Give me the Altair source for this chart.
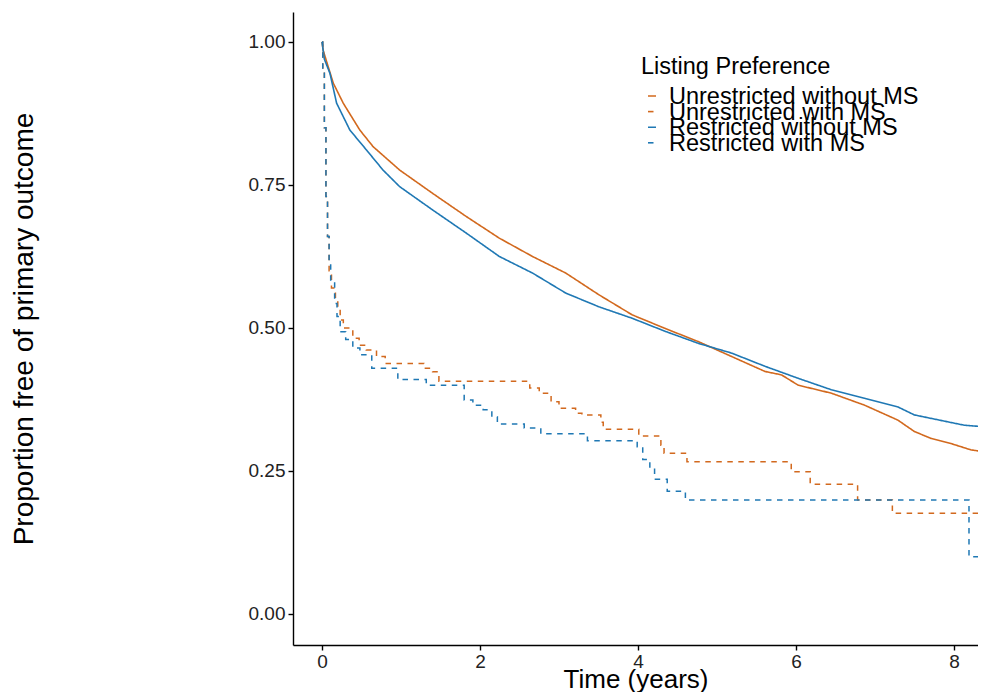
import altair as alt
import pandas as pd

# ---- data ----
legend_title = "Listing Preference"
groups = ["Unrestricted without MS", "Unrestricted with MS",
          "Restricted without MS", "Restricted with MS"]

# solid curves (many small KM steps, read as a polyline)
uw_t = [0, 0.016, 0.06, 0.143, 0.269, 0.479, 0.647, 0.984, 1.404, 1.825, 2.245, 2.665,
        3.086, 3.506, 3.926, 4.347, 4.767, 5.187, 5.608, 5.817, 6.028, 6.448, 6.869,
        7.289, 7.499, 7.709, 7.961, 8.213, 8.41]
uw_v = [1.0, 0.985, 0.965, 0.928, 0.893, 0.846, 0.817, 0.776, 0.735, 0.695, 0.657, 0.625,
        0.596, 0.558, 0.523, 0.499, 0.476, 0.450, 0.424, 0.418, 0.400, 0.386, 0.365,
        0.339, 0.319, 0.307, 0.298, 0.287, 0.283]

rw_t = [0, 0.03, 0.101, 0.185, 0.353, 0.564, 0.773, 0.984, 1.404, 1.825, 2.245, 2.665,
        3.086, 3.506, 3.926, 4.347, 4.767, 5.187, 5.608, 6.028, 6.448, 6.869, 7.289,
        7.499, 7.709, 8.13, 8.41]
rw_v = [1.0, 0.97, 0.945, 0.893, 0.846, 0.811, 0.776, 0.747, 0.706, 0.666, 0.625, 0.596,
        0.561, 0.537, 0.517, 0.494, 0.473, 0.456, 0.433, 0.412, 0.392, 0.377, 0.362,
        0.348, 0.342, 0.330, 0.327]

# dashed step curves (value holds until next time)
uwms_t = [0, 0.01, 0.03, 0.05, 0.07, 0.09, 0.12, 0.17, 0.20, 0.23, 0.27, 0.39, 0.47, 0.56,
          0.69, 0.80, 1.29, 1.40, 1.48, 2.63, 2.75, 2.90, 3.0, 3.21, 3.29, 3.53, 3.56,
          4.01, 4.29, 4.33, 4.62, 5.94, 6.18, 6.78, 7.22, 8.41]
uwms_v = [1.0, 0.95, 0.85, 0.73, 0.66, 0.60, 0.57, 0.55, 0.534, 0.514, 0.50, 0.482, 0.47,
          0.4615, 0.45, 0.438, 0.4295, 0.4236, 0.407, 0.395, 0.386, 0.371, 0.3596, 0.351,
          0.348, 0.335, 0.323, 0.311, 0.295, 0.281, 0.2663, 0.2488, 0.2267, 0.1993,
          0.176, 0.176]

rwms_t = [0, 0.01, 0.03, 0.05, 0.07, 0.09, 0.11, 0.16, 0.19, 0.23, 0.30, 0.39, 0.48, 0.63,
          0.96, 1.32, 1.80, 1.91, 2.04, 2.15, 2.22, 2.56, 2.77, 3.36, 3.99, 4.06, 4.15,
          4.21, 4.37, 4.60, 8.19, 8.41]
rwms_v = [1.0, 0.95, 0.85, 0.73, 0.66, 0.61, 0.58, 0.543, 0.52, 0.4935, 0.48, 0.465, 0.453,
          0.4295, 0.41, 0.400, 0.374, 0.365, 0.357, 0.345, 0.332, 0.325, 0.315, 0.303,
          0.2925, 0.27, 0.255, 0.2355, 0.2145, 0.1993, 0.100, 0.100]

y_ticks = [0.0, 0.25, 0.5, 0.75, 1.0]
x_ticks = [0, 2, 4, 6, 8]

# ---- styles ----
colors = ["#D2691E", "#D2691E", "#1F78B4", "#1F78B4"]
dashes = [[1, 0], [5.5, 5.5], [1, 0], [5.5, 5.5]]
FONT = "Liberation Sans"
LEG_FONT = 23.5

solid = pd.concat([
    pd.DataFrame({"t": uw_t, "v": uw_v, "group": groups[0]}),
    pd.DataFrame({"t": rw_t, "v": rw_v, "group": groups[2]}),
])
dashed = pd.concat([
    pd.DataFrame({"t": uwms_t, "v": uwms_v, "group": groups[1]}),
    pd.DataFrame({"t": rwms_t, "v": rwms_v, "group": groups[3]}),
])

x = alt.X("t:Q", title="Time (years)",
          scale=alt.Scale(domain=[-0.367, 8.304], nice=False, zero=False),
          axis=alt.Axis(values=x_ticks, format="d", titleFontSize=26, labelPadding=2,
                        titleBaseline="alphabetic", titleY=42))
y = alt.Y("v:Q", title="Proportion free of primary outcome",
          scale=alt.Scale(domain=[-0.0542, 1.0524], nice=False, zero=False),
          axis=alt.Axis(values=y_ticks, format=".2f", titleFontSize=28,
                        titleX=-269, titleBaseline="middle"))
color = alt.Color("group:N", scale=alt.Scale(domain=groups, range=colors), legend=None)
dash = alt.StrokeDash("group:N", scale=alt.Scale(domain=groups, range=dashes), legend=None)

solid_layer = alt.Chart(solid).mark_line(strokeWidth=1.6, clip=True).encode(
    x=x, y=y, color=color, strokeDash=dash)
dashed_layer = alt.Chart(dashed).mark_line(strokeWidth=1.5, clip=True,
                                           interpolate="step-after").encode(
    x=x, y=y, color=color, strokeDash=dash)

layers = [solid_layer, dashed_layer]

# ---- hand-built legend (tight rows like the reference) ----
LX, LY_TITLE, LY0, LSTEP = 348, 62, 92, 15.6
layers.append(
    alt.Chart(pd.DataFrame({"title": [legend_title]})).mark_text(
        align="left", baseline="alphabetic", font=FONT, fontSize=LEG_FONT, color="black"
    ).encode(x=alt.value(LX), y=alt.value(LY_TITLE), text="title:N")
)
for i, g in enumerate(groups):
    row = pd.DataFrame({"group": [g]})
    yb = LY0 + i * LSTEP
    layers.append(
        alt.Chart(row).mark_rule(strokeWidth=1.6).encode(
            x=alt.value(LX + 7), x2=alt.value(LX + 15), y=alt.value(yb - 8),
            color=color, strokeDash=dash)
    )
    layers.append(
        alt.Chart(row).mark_text(
            align="left", baseline="alphabetic", font=FONT, fontSize=LEG_FONT, color="black"
        ).encode(x=alt.value(LX + 28), y=alt.value(yb), text="group:N")
    )

chart = alt.layer(*layers).properties(
    width=685, height=633,
    autosize=alt.AutoSizeParams(type="none"),
    padding={"left": 285, "top": 4, "right": 0, "bottom": 47},
).configure_view(stroke=None).configure_axis(
    grid=False, domainColor="black", domainWidth=1.4, tickColor="black",
    tickWidth=1.4, tickSize=5, labelFont=FONT, titleFont=FONT, labelFontSize=19,
    labelColor="#222222", titleColor="black", titleFontWeight="normal", labelPadding=3,
)

chart.save("out.html", embed_options={"renderer": "svg", "actions": False})
